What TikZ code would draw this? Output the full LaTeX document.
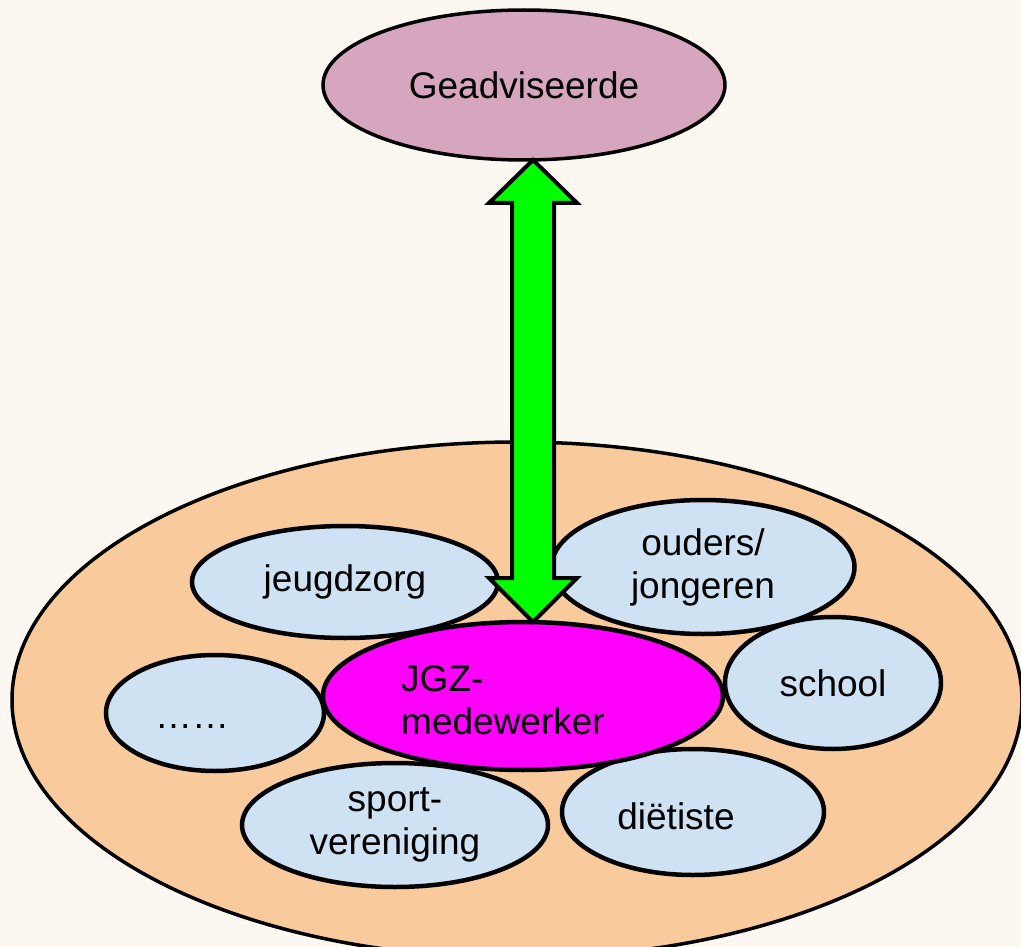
\documentclass[tikz,border=0pt]{standalone}
\usepackage{fontspec}
\setmainfont{Liberation Sans}
\usetikzlibrary{shapes.geometric,calc}
\definecolor{bgcol}{HTML}{FCF7F1}
\definecolor{orangefill}{HTML}{F9CB9C}
\definecolor{bluefill}{HTML}{CFE2F3}
\definecolor{pinkfill}{HTML}{D5A6BD}
\definecolor{magentafill}{HTML}{FF00FF}
\definecolor{greenfill}{HTML}{00FF00}
\tikzset{
  oval/.style={ellipse, draw=black, inner sep=0pt, outer sep=0pt},
  small/.style={oval, fill=bluefill, line width=4.5pt},
  lbl/.style={font=\fontsize{37}{43}\selectfont, align=center, text=black},
  bigarrow/.style={draw=black, fill=greenfill, line width=4pt, line join=miter}
}
\begin{document}
\begin{tikzpicture}[x=1pt,y=-1pt]
\fill[bgcol] (0,0) rectangle (1021,947);
\useasboundingbox (0,0) rectangle (1021,947);
% big base ellipse
\node[oval, fill=orangefill, line width=3.5pt, minimum width=1010pt, minimum height=516pt] (base) at (517,700) {};
% top ellipse
\node[oval, fill=pinkfill, line width=3.5pt, minimum width=402pt, minimum height=150pt, lbl] (geo) at (524,85) {Geadviseerde};
% satellites
\node[small, minimum width=306pt, minimum height=112pt, lbl] (jeugd) at (345,582) {jeugdzorg};
\node[small, minimum width=303pt, minimum height=134pt, lbl] (ouders) at (703,567) {ouders/\\jongeren};
\node[small, minimum width=216pt, minimum height=132pt, lbl] (school) at (833,683) {school};
\node[small, minimum width=218pt, minimum height=116pt] (dots) at (215,713) {};
\node[lbl, anchor=base] (dotst) at (192,728) {……};
\node[small, minimum width=306pt, minimum height=124pt, lbl] (sport) at (395,825) {sport-\\vereniging};
\node[small, minimum width=262pt, minimum height=126pt] (diet) at (693,812) {};
\node[lbl] (dietl) at (676,816) {diëtiste};
% central ellipse
\node[oval, fill=magentafill, line width=4.5pt, minimum width=400pt, minimum height=148pt] (jgz) at (523,696) {};
\node[lbl, align=left] (jgzl) at (503,700) {JGZ-\\medewerker};
% double arrow from geo to jgz
\coordinate (t) at ($(geo.south)+(9,0)$);
\coordinate (b) at ($(jgz.north)+(10,0)$);
\draw[bigarrow]
  (t) -- ($(t)+(44,43)$) -- ($(t)+(21,43)$) -- ($(b)+(21,-44)$) -- ($(b)+(44,-44)$)
  -- (b) -- ($(b)+(-44,-44)$) -- ($(b)+(-21,-44)$) -- ($(t)+(-21,43)$) -- ($(t)+(-44,43)$) -- cycle;
\end{tikzpicture}
\end{document}
